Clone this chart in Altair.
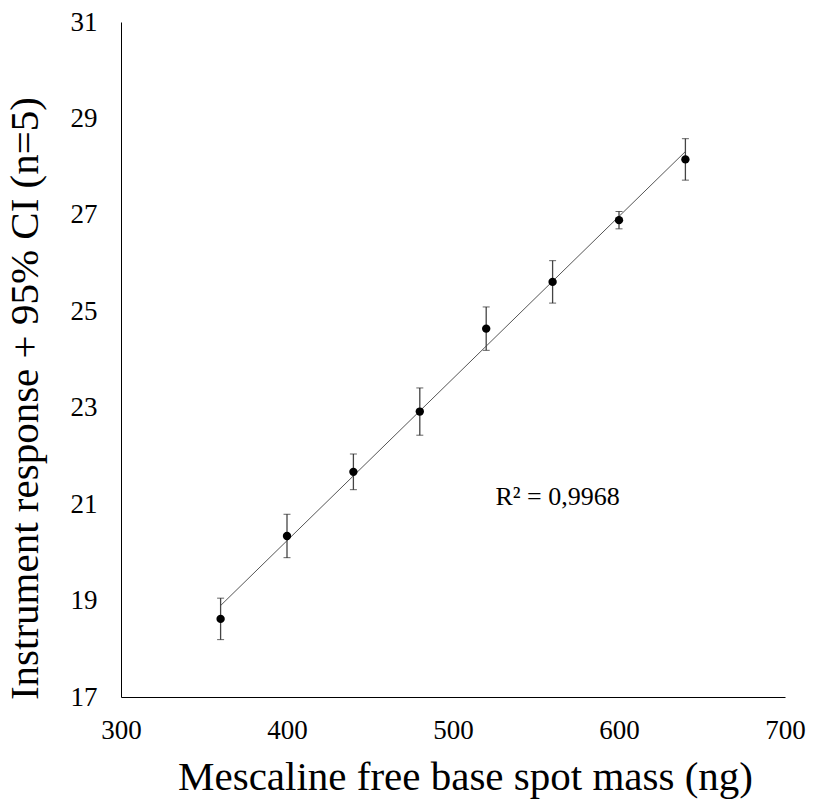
import altair as alt
import pandas as pd

mass = [360, 400, 440, 480, 520, 560, 600, 640]
response = [18.62, 20.34, 21.67, 22.92, 24.64, 25.61, 26.89, 28.15]
ci = [0.43, 0.45, 0.37, 0.49, 0.45, 0.44, 0.18, 0.43]

x_ticks = [300, 400, 500, 600, 700]
y_ticks = [17, 19, 21, 23, 25, 27, 29, 31]
r2_label = "R² = 0,9968"

df = pd.DataFrame({"mass": mass, "response": response, "ci": ci})
df["lo"] = df["response"] - df["ci"]
df["hi"] = df["response"] + df["ci"]

FONT = "Liberation Serif"

xscale = alt.Scale(domain=[300, 700], nice=False, zero=False)
yscale = alt.Scale(domain=[17, 31], nice=False, zero=False)

x_enc = alt.X("mass:Q", scale=xscale, axis=alt.Axis(
    title="Mescaline free base spot mass (ng)", values=x_ticks, ticks=False,
    grid=False, labelPadding=20, titleX=344, titleY=92, labelFlush=False,
    labelOverlap=False, titleBaseline="alphabetic"))
y_enc = alt.Y("response:Q", scale=yscale, axis=alt.Axis(
    title="Instrument response + 95% CI (n=5)", values=y_ticks, ticks=False,
    grid=False, labelPadding=24, titleY=376, titleX=-84, labelFlush=False,
    labelOverlap=False, titleBaseline="alphabetic"))

base = alt.Chart(df)

trend = base.transform_regression("mass", "response").mark_line(
    color="#555555", strokeWidth=1).encode(x=x_enc, y=y_enc)

err = base.mark_rule(color="#444444", strokeWidth=1.3).encode(
    x="mass:Q", y="lo:Q", y2="hi:Q")
cap_lo = base.mark_tick(color="#222222", orient="horizontal", size=7, thickness=1).encode(
    x="mass:Q", y="lo:Q")
cap_hi = base.mark_tick(color="#222222", orient="horizontal", size=7, thickness=1).encode(
    x="mass:Q", y="hi:Q")

pts = base.mark_circle(color="#000000", size=70, opacity=1).encode(
    x="mass:Q", y="response:Q")

label = alt.Chart(pd.DataFrame({"x": [563], "y": [21.15], "t": [r2_label]})).mark_text(
    font=FONT, fontSize=26, color="#000", align="center", baseline="middle").encode(
    x="x:Q", y="y:Q", text="t:N")

chart = alt.layer(trend, err, cap_lo, cap_hi, pts, label).properties(
    width=664, height=675,
    autosize=alt.AutoSizeParams(type="none"),
    padding={"left": 113, "top": 14, "right": 22, "bottom": 102},
).configure(background="white", font=FONT).configure_view(
    stroke=None
).configure_axis(
    labelFont=FONT, titleFont=FONT, labelFontSize=27, titleFontSize=41,
    labelColor="#000", titleColor="#000", titleFontWeight="normal",
    domainColor="#000", domainWidth=1
)

chart.save("out.html", embed_options={"renderer": "svg", "actions": False})
